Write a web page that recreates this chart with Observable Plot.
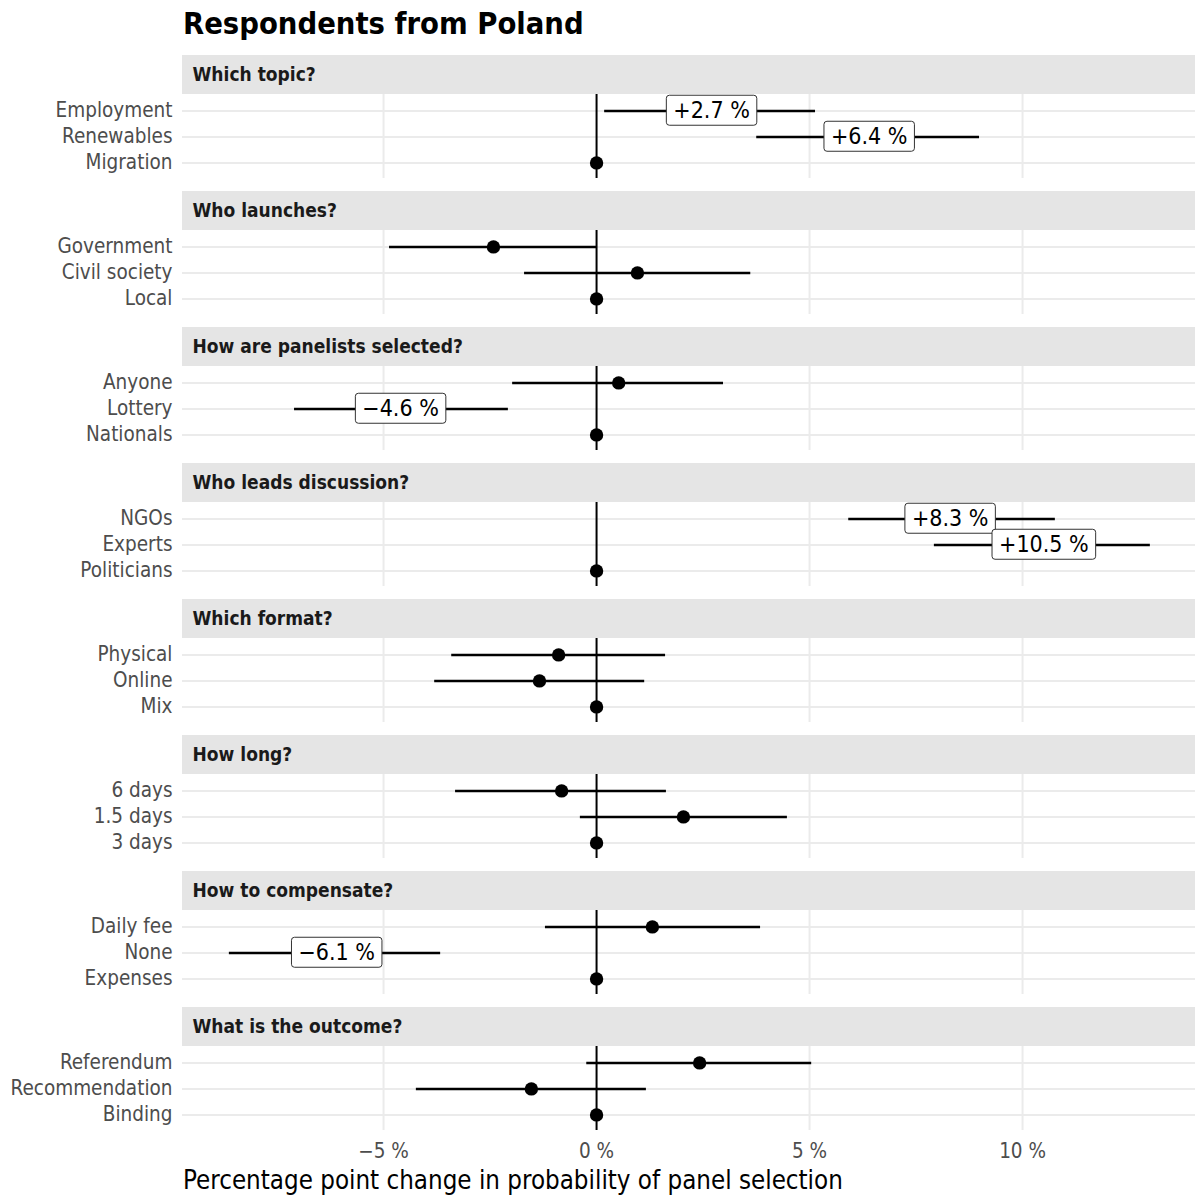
<!DOCTYPE html>
<html><head><meta charset="utf-8">
<script src="https://cdn.jsdelivr.net/npm/d3@7"></script>
<script src="https://cdn.jsdelivr.net/npm/@observablehq/plot@0.6"></script>
<style>
body{margin:0;background:#fff;font-family:"DejaVu Sans Condensed","DejaVu Sans",sans-serif;font-stretch:condensed;}
#title{position:absolute;left:183px;top:6px;font-size:30.6px;font-weight:bold;color:#000;white-space:nowrap;}
#chart{position:absolute;left:0;top:45px;}
#xtitle{position:absolute;left:183px;top:1165px;font-size:25.7px;color:#000;white-space:nowrap;}
</style></head><body>
<div id="title">Respondents from Poland</div>
<div id="chart"></div>
<div id="xtitle">Percentage point change in probability of panel selection</div>
<script>
const attributes = ["Which topic?", "Who launches?", "How are panelists selected?", "Who leads discussion?", "Which format?", "How long?", "How to compensate?", "What is the outcome?"];
const levels = [
  ["Employment", "Renewables", "Migration"],
  ["Government", "Civil society", "Local"],
  ["Anyone", "Lottery", "Nationals"],
  ["NGOs", "Experts", "Politicians"],
  ["Physical", "Online", "Mix"],
  ["6 days", "1.5 days", "3 days"],
  ["Daily fee", "None", "Expenses"],
  ["Referendum", "Recommendation", "Binding"]
];
const estimates = [
  [2.7, 6.4, 0],
  [-2.42, 0.96, 0],
  [0.52, -4.6, 0],
  [8.3, 10.5, 0],
  [-0.89, -1.34, 0],
  [-0.82, 2.04, 0],
  [1.31, -6.1, 0],
  [2.42, -1.53, 0]
];
const lower = [
  [0.19, 3.76, null],
  [-4.86, -1.69, null],
  [-1.97, -7.09, null],
  [5.92, 7.93, null],
  [-3.40, -3.80, null],
  [-3.31, -0.38, null],
  [-1.20, -8.62, null],
  [-0.23, -4.23, null]
];
const upper = [
  [5.14, 8.99, null],
  [0.01, 3.62, null],
  [2.98, -2.07, null],
  [10.77, 13.0, null],
  [1.62, 1.13, null],
  [1.64, 4.48, null],
  [3.85, -3.66, null],
  [5.05, 1.17, null]
];
const xTicks = [-5, 0, 5, 10];

// layout (in row units within a facet)
const xDomain = [-9.72, 14.06];
const STRIP_END = 1.5, ROW0 = 2.13, PANEL_END = 4.73;

const rows = attributes.flatMap((a, i) => levels[i].map((lv, j) => ({
  attr: a, level: lv, row: j, est: estimates[i][j], lo: lower[i][j], hi: upper[i][j]
})));
const isSig = d => d.lo != null && (d.lo > 0 || d.hi < 0);
const fmtPct = v => (v < 0 ? "\u2212" : "+") + Math.abs(v).toFixed(1) + " %";
const yPos = d => d.row + ROW0;
const FONT = '"DejaVu Sans Condensed","DejaVu Sans",sans-serif';

const chart = Plot.plot({
  width: 1195, height: 1120,
  marginLeft: 182, marginRight: 0, marginTop: 10, marginBottom: 35,
  style: {fontFamily: FONT, fontSize: "20.5px", color: "#4d4d4d", background: "white", fontStretch: "condensed"},
  x: {domain: xDomain, ticks: xTicks, tickFormat: d => (d < 0 ? "\u2212" : "") + Math.abs(d) + " %", tickSize: 0, tickPadding: 13, label: null},
  y: {domain: [0, PANEL_END], reverse: true, axis: null},
  fy: {domain: attributes, axis: null, paddingInner: 13 / 136, paddingOuter: 0, label: null},
  marks: [
    Plot.rect(attributes, {fy: d => d, x1: xDomain[0], x2: xDomain[1], y1: 0, y2: STRIP_END, fill: "#e5e5e5"}),
    Plot.text(attributes, {fy: d => d, text: d => d, y: STRIP_END / 2, frameAnchor: "left", dx: 10, textAnchor: "start", fontWeight: "bold", fontSize: 19, fill: "#1a1a1a"}),
    Plot.ruleY(rows, {fy: "attr", y: yPos, stroke: "#ebebeb", strokeWidth: 2}),
    Plot.ruleX(xTicks.filter(t => t !== 0), {y1: STRIP_END, y2: PANEL_END, stroke: "#ebebeb", strokeWidth: 2}),
    Plot.ruleX([0], {y1: STRIP_END, y2: PANEL_END, stroke: "black", strokeWidth: 2}),
    Plot.ruleY(rows.filter(d => d.lo != null), {fy: "attr", y: yPos, x1: "lo", x2: "hi", stroke: "black", strokeWidth: 2.5}),
    Plot.dot(rows.filter(d => !isSig(d)), {fy: "attr", x: "est", y: yPos, r: 6.7, fill: "black", stroke: null}),
    Plot.text(rows.filter(isSig), {fy: "attr", x: "est", y: yPos, text: d => fmtPct(d.est), fontSize: 23, fill: "black"}),
    Plot.text(rows, {fy: "attr", y: yPos, text: "level", frameAnchor: "left", dx: -10, textAnchor: "end", fill: "#4d4d4d", fontSize: 20.5})
  ]
});
document.getElementById("chart").appendChild(chart);

// label boxes behind significant estimates
const labelRe = /^[+\u2212]\d+\.\d %$/;
Array.from(chart.querySelectorAll("text")).filter(t => labelRe.test(t.textContent.trim())).forEach(t => {
  const b = t.getBBox();
  const padX = 7, padY = 2;
  const r = document.createElementNS("http://www.w3.org/2000/svg", "rect");
  r.setAttribute("x", b.x - padX);
  r.setAttribute("y", b.y - padY);
  r.setAttribute("width", b.width + 2 * padX);
  r.setAttribute("height", b.height + 2 * padY);
  r.setAttribute("rx", 3);
  r.setAttribute("fill", "white");
  r.setAttribute("stroke", "#333");
  r.setAttribute("stroke-width", 1);
  if (t.getAttribute("transform")) r.setAttribute("transform", t.getAttribute("transform"));
  t.parentNode.insertBefore(r, t);
});
</script>
</body></html>
